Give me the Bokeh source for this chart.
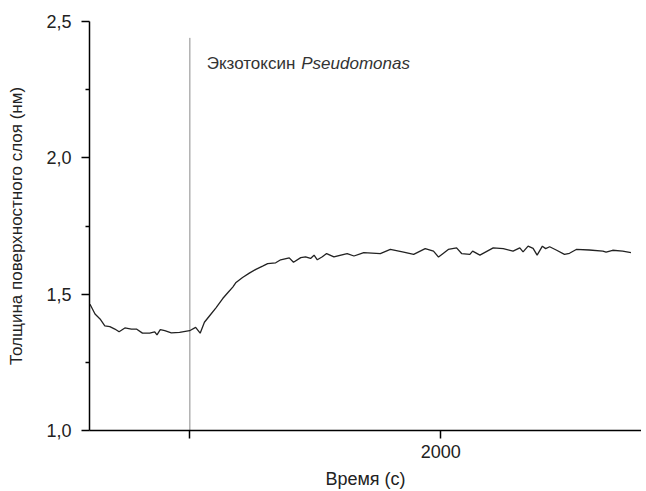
from bokeh.plotting import figure
from bokeh.models import Label, FixedTicker, Range1d
from bokeh.embed import file_html
from bokeh.resources import INLINE

time_s = [602, 622, 642, 661, 681, 701, 718, 741, 767, 787, 811, 840, 860, 869, 882, 900,
          926, 959, 999, 1023, 1041, 1058, 1078, 1104, 1131, 1151, 1171, 1184, 1210, 1237,
          1263, 1290, 1310, 1342, 1362, 1396, 1413, 1442, 1461, 1481, 1495, 1508, 1528,
          1545, 1574, 1627, 1654, 1693, 1759, 1799, 1852, 1892, 1938, 1971, 1991, 2030,
          2063, 2083, 2116, 2127, 2156, 2209, 2249, 2288, 2315, 2328, 2348, 2368, 2384,
          2405, 2418, 2434, 2460, 2493, 2513, 2540, 2592, 2646, 2659, 2685, 2725, 2758]
thickness_nm = [1.463, 1.427, 1.409, 1.384, 1.381, 1.372, 1.362, 1.376, 1.372, 1.372, 1.357,
                1.357, 1.362, 1.351, 1.370, 1.366, 1.358, 1.360, 1.366, 1.378, 1.357, 1.397,
                1.420, 1.450, 1.484, 1.505, 1.526, 1.543, 1.561, 1.577, 1.591, 1.603, 1.612,
                1.615, 1.626, 1.633, 1.617, 1.634, 1.637, 1.631, 1.643, 1.626, 1.637, 1.649,
                1.637, 1.649, 1.640, 1.652, 1.649, 1.664, 1.654, 1.646, 1.667, 1.658, 1.636,
                1.664, 1.670, 1.649, 1.646, 1.658, 1.643, 1.670, 1.667, 1.658, 1.670, 1.655,
                1.676, 1.668, 1.643, 1.676, 1.667, 1.674, 1.662, 1.646, 1.650, 1.664, 1.662,
                1.658, 1.654, 1.661, 1.658, 1.652]

injection_time = 1000
injection_top = 2.44
x_ticks = [1000, 2000]
x_tick_labels = {1000: "", 2000: "2000"}
y_ticks = [1.0, 1.5, 2.0, 2.5]
y_tick_labels = {1.0: "1,0", 1.5: "1,5", 2.0: "2,0", 2.5: "2,5"}
y_minor = [1.25, 1.75, 2.25]
annot_regular = "Экзотоксин"
annot_italic = "Pseudomonas"
annot_x = 1067
annot_italic_x = 1444
annot_y = 2.347

FONT = "Liberation Sans"

p = figure(width=641, height=491, output_backend="svg", toolbar_location=None,
           x_range=Range1d(600, 2800), y_range=Range1d(1.0, 2.5),
           min_border_left=89, min_border_right=0, min_border_top=21, min_border_bottom=59)
p.outline_line_color = None
p.grid.grid_line_color = None
p.background_fill_color = "white"

p.segment(x0=[injection_time], y0=[1.0], x1=[injection_time], y1=[injection_top],
          line_color="#8a8a8a", line_width=1)
p.line(time_s, thickness_nm, line_color="#222222", line_width=1.3)

p.add_layout(Label(x=annot_x, y=annot_y, text=annot_regular, text_font=FONT,
                   text_font_size="17px", text_color="#333333", text_baseline="middle"))
p.add_layout(Label(x=annot_italic_x, y=annot_y, text=annot_italic, text_font=FONT,
                   text_font_size="17px", text_font_style="italic", text_color="#333333",
                   text_baseline="middle"))

for ax in (p.xaxis[0], p.yaxis[0]):
    ax.axis_line_color = "black"
    ax.axis_line_width = 1.5
    ax.major_tick_line_color = "black"
    ax.major_tick_line_width = 1.5
    ax.major_tick_in = 0
    ax.major_tick_out = 8
    ax.major_label_text_font = FONT
    ax.major_label_text_font_size = "18px"
    ax.major_label_text_color = "#222222"
    ax.axis_label_text_font = FONT
    ax.axis_label_text_font_size = "17px"
    ax.axis_label_text_font_style = "normal"
    ax.axis_label_text_color = "#222222"

p.xaxis.ticker = FixedTicker(ticks=x_ticks, minor_ticks=[])
p.xaxis.major_label_overrides = x_tick_labels
p.xaxis.minor_tick_line_color = None
p.xaxis.major_label_standoff = 6
p.xaxis.axis_label = "Время (с)"
p.xaxis.axis_label_text_font_size = "18px"
p.xaxis.axis_label_standoff = 8

p.yaxis.ticker = FixedTicker(ticks=y_ticks, minor_ticks=y_minor)
p.yaxis.major_label_overrides = y_tick_labels
p.yaxis.minor_tick_line_color = "black"
p.yaxis.minor_tick_line_width = 1.5
p.yaxis.minor_tick_in = 0
p.yaxis.minor_tick_out = 4
p.yaxis.major_label_standoff = 10
p.yaxis.axis_label = "Толщина поверхностного слоя (нм)"
p.yaxis.axis_label_standoff = 17

open("out.html", "w").write(file_html(p, INLINE))
